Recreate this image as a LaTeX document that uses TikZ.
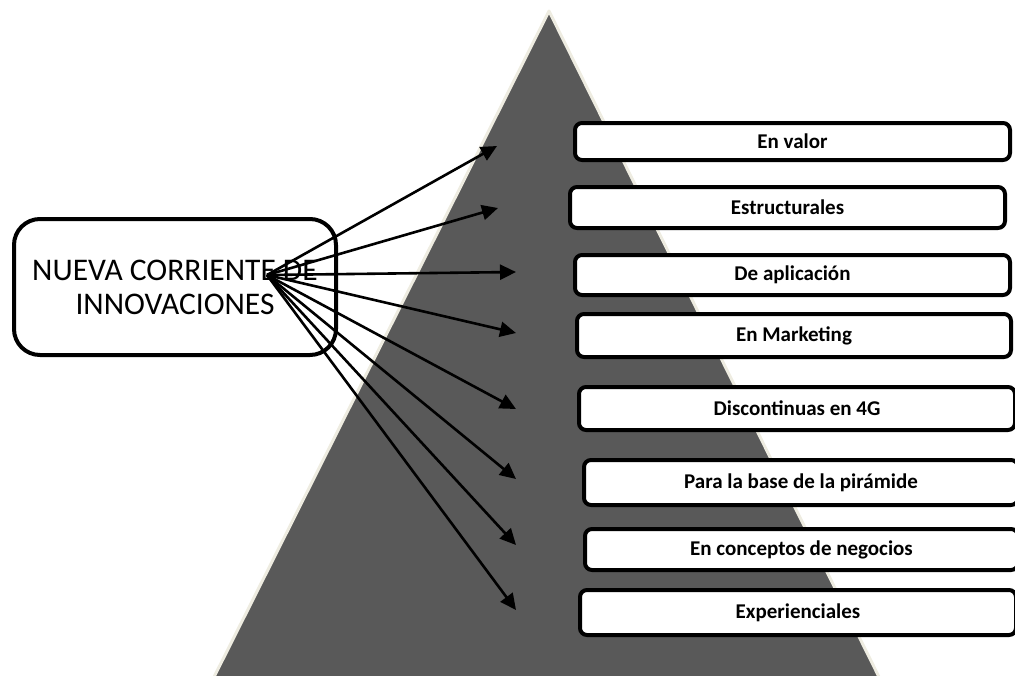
\documentclass[tikz,border=0pt]{standalone}
\usepackage{fontspec}
\setmainfont{Carlito}
\usetikzlibrary{arrows.meta}
\definecolor{pyrgray}{HTML}{595959}
\definecolor{pyredge}{HTML}{EEECE1}
\tikzset{
  itembox/.style={draw=black, fill=white, line width=4pt, rounded corners=7pt,
    font=\fontsize{21}{24}\selectfont\bfseries, inner sep=0pt},
  mainbox/.style={draw=black, fill=white, line width=4pt, rounded corners=26pt,
    font=\fontsize{31.5}{34}\selectfont, align=center, inner sep=0pt,
    minimum width=322pt, minimum height=136pt},
  ray/.style={line width=2.6pt, -{Triangle[length=16pt,width=15pt]}}
}
\begin{document}
\begin{tikzpicture}[x=1pt,y=-1pt]
\useasboundingbox (0,0) rectangle (1015,675);
\begin{scope}
\clip (0,0) rectangle (1015,675);
% pyramid
\fill[pyrgray, draw=pyredge, line width=3pt, line join=round]
  (549,11) -- (881,681) -- (212,681) -- cycle;
\end{scope}

% arrow tips
\coordinate (hub) at (267,275);
\coordinate (t1) at (497,146);
\coordinate (t2) at (498,208);
\coordinate (t3) at (516,272);
\coordinate (t4) at (516,333);
\coordinate (t5) at (516,409);
\coordinate (t6) at (516,479);
\coordinate (t7) at (516,545);
\coordinate (t8) at (516,610);

% source box
\node[mainbox] (src) at (175,287) {NUEVA CORRIENTE DE\\INNOVACIONES};

% rays
\foreach \t in {t1,t2,t3,t4,t5,t6,t7,t8}
  \draw[ray] (hub) -- (\t);

% categories
\node[itembox, minimum width=435pt, minimum height=37pt] (b1) at (792.5,141.5) {En valor};
\node[itembox, minimum width=435pt, minimum height=41pt] (b2) at (787.5,207.5) {Estructurales};
\node[itembox, minimum width=435pt, minimum height=40pt] (b3) at (792.5,275) {De aplicación};
\node[itembox, minimum width=434pt, minimum height=43pt] (b4) at (794,335.5) {En Marketing};
\node[itembox, minimum width=436pt, minimum height=43pt] (b5) at (797,408.5) {Discontinuas en 4G};
\node[itembox, minimum width=434pt, minimum height=45pt] (b6) at (801,482.5) {Para la base de la pirámide};
\node[itembox, minimum width=433pt, minimum height=41pt] (b7) at (801.5,549.5) {En conceptos de negocios};
\node[itembox, minimum width=436pt, minimum height=45pt] (b8) at (798,612.5) {Experienciales};
\end{tikzpicture}
\end{document}
